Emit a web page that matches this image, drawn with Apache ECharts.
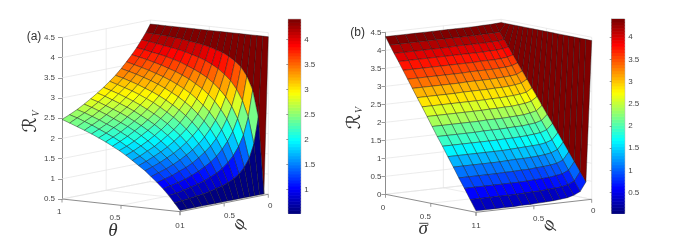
<!DOCTYPE html>
<html>
<head>
<meta charset="utf-8">
<style>html,body{margin:0;padding:0;background:#fff}#c{width:674px;height:243px;filter:blur(0.35px)}</style>
<script src="https://cdn.jsdelivr.net/npm/echarts@6/dist/echarts.min.js"></script>
</head>
<body>
<div id="c"></div>
<script>
// ---- data ----
const rowSteps = [0,0.047,0.095,0.144,0.194,0.245,0.297,0.35,0.404,0.459,0.515,0.572,0.63,0.689,0.749,0.81,0.872,0.935,1];
const phiSteps = [0,0.05,0.1,0.155,0.21,0.27,0.33,0.395,0.46,0.53,0.6,0.675,0.75,0.83,0.915,1];
const zTicksA = [0.5,1,1.5,2,2.5,3,3.5,4,4.5];
const zTicksB = [0,0.5,1,1.5,2,2.5,3,3.5,4,4.5];
const planarTicks = [1,0.5,0];
const planarLabels = ['1','0.5','0'];
const cbarTicksA = [1,1.5,2,2.5,3,3.5,4];
const cbarTicksB = [0.5,1,1.5,2,2.5,3,3.5,4];
const cbarRangeA = [0.53,4.4];
const cbarRangeB = [0.037,4.41];
// panel (a): one row per theta, one column per phi
const surfaceA = [
[4.40,0.53,0.53,0.53,0.53,0.53,0.53,0.53,0.53,0.53,0.53,0.53,0.53,0.53,0.53,0.53],
[4.40,2.41,1.77,1.43,1.24,1.10,1.01,0.94,0.89,0.85,0.81,0.78,0.76,0.74,0.72,0.70],
[4.40,3.07,2.42,2.00,1.74,1.54,1.40,1.28,1.19,1.12,1.06,1.01,0.97,0.93,0.89,0.87],
[4.40,3.40,2.81,2.39,2.10,1.88,1.71,1.56,1.45,1.36,1.28,1.21,1.15,1.10,1.06,1.02],
[4.40,3.61,3.08,2.68,2.39,2.15,1.96,1.80,1.68,1.57,1.47,1.39,1.33,1.26,1.21,1.16],
[4.40,3.74,3.28,2.90,2.61,2.37,2.18,2.01,1.87,1.75,1.65,1.56,1.48,1.41,1.35,1.29],
[4.40,3.84,3.42,3.07,2.80,2.56,2.36,2.19,2.05,1.92,1.81,1.71,1.63,1.55,1.48,1.42],
[4.40,3.92,3.54,3.21,2.95,2.71,2.52,2.35,2.20,2.07,1.96,1.85,1.76,1.68,1.60,1.53],
[4.40,3.97,3.63,3.33,3.08,2.85,2.66,2.49,2.34,2.20,2.09,1.98,1.88,1.80,1.71,1.64],
[4.40,4.02,3.71,3.42,3.18,2.97,2.78,2.61,2.46,2.33,2.21,2.10,2.00,1.91,1.82,1.75],
[4.40,4.06,3.77,3.50,3.28,3.07,2.89,2.72,2.57,2.44,2.32,2.21,2.11,2.01,1.92,1.85],
[4.40,4.09,3.82,3.57,3.36,3.16,2.98,2.82,2.67,2.54,2.42,2.31,2.21,2.11,2.02,1.94],
[4.40,4.11,3.87,3.64,3.43,3.24,3.07,2.91,2.77,2.63,2.51,2.40,2.30,2.20,2.11,2.03],
[4.40,4.14,3.91,3.69,3.49,3.31,3.15,2.99,2.85,2.72,2.60,2.49,2.38,2.29,2.19,2.11],
[4.40,4.16,3.94,3.74,3.55,3.37,3.22,3.06,2.93,2.80,2.68,2.57,2.46,2.36,2.27,2.19],
[4.40,4.18,3.97,3.78,3.60,3.43,3.28,3.13,3.00,2.87,2.75,2.64,2.54,2.44,2.35,2.26],
[4.40,4.19,4.00,3.81,3.65,3.48,3.34,3.19,3.06,2.94,2.82,2.71,2.61,2.51,2.42,2.33],
[4.40,4.20,4.03,3.85,3.69,3.53,3.39,3.25,3.12,3.00,2.89,2.78,2.68,2.58,2.49,2.40],
[4.40,4.21,4.05,3.88,3.73,3.58,3.44,3.30,3.18,3.06,2.95,2.84,2.74,2.64,2.55,2.47]
];
// panel (b): one row per sigma-bar, one column per phi
const surfaceB = [
[4.41,4.40,4.39,4.39,4.38,4.38,4.38,4.38,4.38,4.38,4.38,4.38,4.38,4.38,4.38,4.38],
[4.41,4.19,4.18,4.18,4.18,4.17,4.17,4.17,4.17,4.17,4.17,4.17,4.17,4.17,4.17,4.17],
[4.41,4.01,3.98,3.98,3.97,3.97,3.97,3.97,3.97,3.96,3.96,3.96,3.96,3.96,3.96,3.96],
[4.41,3.82,3.79,3.77,3.77,3.76,3.76,3.76,3.76,3.76,3.76,3.76,3.76,3.76,3.76,3.76],
[4.41,3.63,3.58,3.56,3.55,3.55,3.55,3.54,3.54,3.54,3.54,3.54,3.54,3.54,3.54,3.54],
[4.41,3.43,3.37,3.35,3.34,3.33,3.33,3.33,3.33,3.32,3.32,3.32,3.32,3.32,3.32,3.32],
[4.41,3.23,3.15,3.13,3.12,3.11,3.10,3.10,3.10,3.10,3.09,3.09,3.09,3.09,3.09,3.09],
[4.41,3.03,2.94,2.91,2.89,2.88,2.88,2.87,2.87,2.87,2.87,2.86,2.86,2.86,2.86,2.86],
[4.41,2.81,2.71,2.68,2.66,2.65,2.64,2.64,2.63,2.63,2.63,2.63,2.63,2.63,2.63,2.63],
[4.41,2.60,2.49,2.45,2.43,2.41,2.41,2.40,2.40,2.39,2.39,2.39,2.39,2.39,2.39,2.39],
[4.41,2.38,2.25,2.21,2.18,2.17,2.16,2.15,2.15,2.15,2.14,2.14,2.14,2.14,2.14,2.14],
[4.41,2.16,2.01,1.96,1.94,1.92,1.92,1.91,1.90,1.90,1.90,1.89,1.89,1.89,1.89,1.89],
[4.41,1.94,1.78,1.72,1.70,1.68,1.67,1.66,1.66,1.65,1.65,1.65,1.65,1.65,1.65,1.65],
[4.41,1.71,1.53,1.47,1.44,1.43,1.42,1.41,1.40,1.39,1.39,1.39,1.39,1.39,1.39,1.39],
[4.41,1.48,1.29,1.22,1.19,1.17,1.16,1.15,1.15,1.14,1.13,1.13,1.13,1.13,1.13,1.13],
[4.41,1.24,1.03,0.96,0.93,0.91,0.90,0.88,0.88,0.87,0.87,0.86,0.86,0.86,0.86,0.86],
[4.41,1.00,0.78,0.70,0.67,0.64,0.63,0.62,0.61,0.60,0.60,0.60,0.60,0.60,0.60,0.60],
[4.41,0.75,0.51,0.43,0.39,0.37,0.36,0.34,0.34,0.33,0.32,0.32,0.32,0.32,0.32,0.32],
[4.41,0.50,0.25,0.17,0.12,0.10,0.08,0.07,0.06,0.05,0.05,0.04,0.04,0.04,0.04,0.04]
];

// ---- view set-up: oblique projection into each panel's (x, z) axes ----
const AXIS_GRAY = '#808080', GRID_GRAY = '#e4e4e4', TEXT_GRAY = '#444444';
const FONT = '"Liberation Sans", Arial, sans-serif';
const SERIF = '"Liberation Serif", "DejaVu Serif", serif';
const viewA = { alongFirst:[0.572,-0.314], alongPhi:[0.428,0.431], floor:0.5, top:4.5, first:t=>1-t,
  firstOff:[[-2.7,12.7],[-6,12.5],[-2.5,13.7]], phiOff:[[2.5,13.7],[5.3,13],[2,12]] };
const viewB = { alongFirst:[0.439,-0.5],   alongPhi:[0.561,0.361], floor:0,   top:4.5, first:t=>t,
  firstOff:[[-2.3,13.4],[-5.4,13.4],[-2.5,13.4]], phiOff:[[2.5,13.4],[4.8,12.5],[1.6,11.4]] };
const project = (v,a,b,z)=>[a*v.alongFirst[0]+b*v.alongPhi[0], z+a*v.alongFirst[1]+b*v.alongPhi[1]];

function jet(t){
  t=Math.max(0,Math.min(1,Math.floor(t*64)/63));
  const ch=c=>Math.round(255*Math.max(0,Math.min(1,1.5-Math.abs(4*t-c))));
  return 'rgb('+ch(3)+','+ch(2)+','+ch(1)+')';
}

function buildFaces(rows,view){
  const faces=[];
  const rowIdx=[...Array(rowSteps.length-1).keys()], colIdx=[...Array(phiSteps.length-1).keys()];
  // far rows first so nearer faces paint over them
  const order=view.first(0)===1 ? rowIdx.slice().reverse() : rowIdx;
  order.forEach(i=>{
    colIdx.forEach(j=>{
      const a0=view.first(rowSteps[i]),a1=view.first(rowSteps[i+1]);
      const b0=1-phiSteps[j],b1=1-phiSteps[j+1];
      faces.push([
        ...project(view,a0,b0,rows[i][j]),
        ...project(view,a0,b1,rows[i][j+1]),
        ...project(view,a1,b1,rows[i+1][j+1]),
        ...project(view,a1,b0,rows[i+1][j]),
        rows[i][j]
      ]);
    });
  });
  return faces;
}

function buildGridLines(view,zTicks){
  const L=[],f=view.floor,t=view.top,mid=0.5;
  zTicks.forEach(z=>{
    L.push([...project(view,0,0,z),...project(view,0,1,z)]);
    L.push([...project(view,0,1,z),...project(view,1,1,z)]);
  });
  [mid,1].forEach(b=>L.push([...project(view,0,b,f),...project(view,0,b,t)]));
  [mid,1].forEach(a=>L.push([...project(view,a,1,f),...project(view,a,1,t)]));
  L.push([...project(view,mid,0,f),...project(view,mid,1,f)]);
  L.push([...project(view,0,mid,f),...project(view,1,mid,f)]);
  L.push([...project(view,0,1,f),...project(view,1,1,f)]);
  L.push([...project(view,0,1,f),...project(view,0,0,f)]);
  return L;
}
function buildAxisLines(view){
  return [
    [...project(view,0,0,view.floor),...project(view,1,0,view.floor)],
    [...project(view,1,0,view.floor),...project(view,1,1,view.floor)]
  ];
}
function buildPlanarTicks(view){
  const L=[];
  planarTicks.forEach(t=>{
    L.push(project(view,view.first(t),0,view.floor));
    L.push(project(view,1,1-t,view.floor));
  });
  return L;
}
function buildPlanarLabels(view){
  const out=[];
  planarTicks.forEach((t,k)=>{
    const a=view.first(t);
    out.push({p:project(view,a,0,view.floor),text:planarLabels[k],off:view.firstOff[k]});
    out.push({p:project(view,1,1-t,view.floor),text:planarLabels[k],off:view.phiOff[k]});
  });
  return out;
}

function lineSeries(gi,lines,color,width){
  return {type:'custom',xAxisIndex:gi,yAxisIndex:gi,silent:true,data:lines,
    renderItem:(p,api)=>{
      const a=api.coord([api.value(0),api.value(1)]),b=api.coord([api.value(2),api.value(3)]);
      return {type:'line',shape:{x1:a[0],y1:a[1],x2:b[0],y2:b[1]},style:{stroke:color,lineWidth:width}};
    }};
}
function tickSeries(gi,pts){
  return {type:'custom',xAxisIndex:gi,yAxisIndex:gi,silent:true,data:pts,
    renderItem:(p,api)=>{
      const a=api.coord([api.value(0),api.value(1)]);
      return {type:'line',shape:{x1:a[0],y1:a[1],x2:a[0],y2:a[1]+3.5},style:{stroke:AXIS_GRAY,lineWidth:0.8}};
    }};
}
function labelSeries(gi,items){
  return {type:'custom',xAxisIndex:gi,yAxisIndex:gi,silent:true,data:items.map(o=>o.p),
    renderItem:(p,api)=>{
      const a=api.coord([api.value(0),api.value(1)]),o=items[p.dataIndex];
      return {type:'text',x:a[0]+o.off[0],y:a[1]+o.off[1],
        style:{text:o.text,fill:TEXT_GRAY,fontSize:8,fontFamily:FONT,align:'center',verticalAlign:'middle'}};
    }};
}
function surfaceSeries(gi,rows,view,range){
  return {type:'custom',xAxisIndex:gi,yAxisIndex:gi,silent:true,data:buildFaces(rows,view),
    renderItem:(p,api)=>{
      const pts=[0,2,4,6].map(k=>api.coord([api.value(k),api.value(k+1)]));
      const c=jet((api.value(8)-range[0])/(range[1]-range[0]));
      return {type:'polygon',shape:{points:pts},style:{fill:c,stroke:'rgba(25,25,25,0.7)',lineWidth:0.6}};
    }};
}
function colorbarSeries(gi,range){
  const levels=[...Array(64).keys()];
  const step=(range[1]-range[0])/64;
  return {type:'custom',xAxisIndex:gi,yAxisIndex:gi,silent:true,
    data:levels.map(k=>[range[0]+k*step,range[0]+(k+1)*step,k]),
    renderItem:(p,api)=>{
      const a=api.coord([0,api.value(0)]),b=api.coord([1,api.value(1)]);
      return {type:'rect',shape:{x:a[0],y:b[1],width:b[0]-a[0],height:a[1]-b[1]+0.6},
        style:{fill:jet((api.value(2)+0.5)/64)}};
    }};
}

const hiddenX=g=>({type:'value',gridIndex:g,min:0,max:1,show:false});
const zAxis=(g,min,margin)=>({type:'value',gridIndex:g,min:min,max:4.5,interval:0.5,
  axisLine:{show:true,lineStyle:{color:AXIS_GRAY,width:0.9}},
  axisTick:{show:true,length:4,lineStyle:{color:AXIS_GRAY,width:0.8}},
  axisLabel:{margin:margin,fontSize:8,color:TEXT_GRAY,fontFamily:FONT},
  splitLine:{show:false}});
const barAxis=(g,range,ticks)=>({type:'value',gridIndex:g,min:range[0],max:range[1],position:'right',
  axisLine:{show:true,lineStyle:{color:'#8c8c8c',width:0.8}},
  axisTick:{show:true,inside:true,length:2,customValues:ticks,lineStyle:{color:'#555',width:0.6}},
  axisLabel:{margin:3.5,fontSize:8,color:TEXT_GRAY,fontFamily:FONT,customValues:ticks},
  splitLine:{show:false}});

const txt=(x,y,text,size,opts)=>Object.assign({type:'text',x:x,y:y,silent:true,
  style:Object.assign({text:text,fontSize:size,fontFamily:SERIF,fill:'#333',align:'center',verticalAlign:'middle'},opts&&opts.style||{})},
  opts&&opts.el||{});
const up=Math.PI/2;

const option={
  animation:false,
  backgroundColor:'#fff',
  grid:[
    {left:62,top:37.4,width:206.3,height:161.6},
    {left:385.5,top:32.3,width:206.2,height:162},
    {left:288.3,top:19.3,width:12.4,height:194,show:true,borderColor:'#8c8c8c',borderWidth:0.8,backgroundColor:'transparent'},
    {left:611.7,top:19,width:13,height:194.3,show:true,borderColor:'#8c8c8c',borderWidth:0.8,backgroundColor:'transparent'}
  ],
  xAxis:[hiddenX(0),hiddenX(1),hiddenX(2),hiddenX(3)],
  yAxis:[zAxis(0,0.5,7),zAxis(1,0,4),barAxis(2,cbarRangeA,cbarTicksA),barAxis(3,cbarRangeB,cbarTicksB)],
  series:[
    lineSeries(0,buildGridLines(viewA,zTicksA),GRID_GRAY,0.7),
    lineSeries(1,buildGridLines(viewB,zTicksB),GRID_GRAY,0.7),
    lineSeries(0,buildAxisLines(viewA),AXIS_GRAY,0.9),
    lineSeries(1,buildAxisLines(viewB),AXIS_GRAY,0.9),
    tickSeries(0,buildPlanarTicks(viewA)),
    tickSeries(1,buildPlanarTicks(viewB)),
    surfaceSeries(0,surfaceA,viewA,cbarRangeA),
    surfaceSeries(1,surfaceB,viewB,cbarRangeB),
    labelSeries(0,buildPlanarLabels(viewA)),
    labelSeries(1,buildPlanarLabels(viewB)),
    colorbarSeries(2,cbarRangeA),
    colorbarSeries(3,cbarRangeB)
  ],
  graphic:[
    txt(34,37,'(a)',12,{style:{fontFamily:FONT}}),
    txt(357.7,32.3,'(b)',12,{style:{fontFamily:FONT}}),
    txt(113,231,'θ',19,{style:{fontStyle:'italic'}}),
    txt(239.3,224,'φ',19,{style:{fontStyle:'italic'},el:{rotation:1.1}}),
    txt(423.3,229,'σ',19,{style:{fontStyle:'italic'}}),
    {type:'line',silent:true,shape:{x1:419.3,y1:223.3,x2:428.3,y2:223.3},style:{stroke:'#333',lineWidth:0.9}},
    txt(548.7,225,'φ',19,{style:{fontStyle:'italic'},el:{rotation:1.1}}),
    txt(31.5,125,'ℛ',19,{style:{fontFamily:'"DejaVu Sans", serif'},el:{rotation:up}}),
    txt(36,113.5,'V',10,{style:{fontStyle:'italic'},el:{rotation:up}}),
    txt(355.3,121.7,'ℛ',19,{style:{fontFamily:'"DejaVu Sans", serif'},el:{rotation:up}}),
    txt(359.5,110,'V',10,{style:{fontStyle:'italic'},el:{rotation:up}})
  ]
};
const chart=echarts.init(document.getElementById('c'),null,{renderer:'canvas',width:674,height:243});
chart.setOption(option);
</script>
</body>
</html>
